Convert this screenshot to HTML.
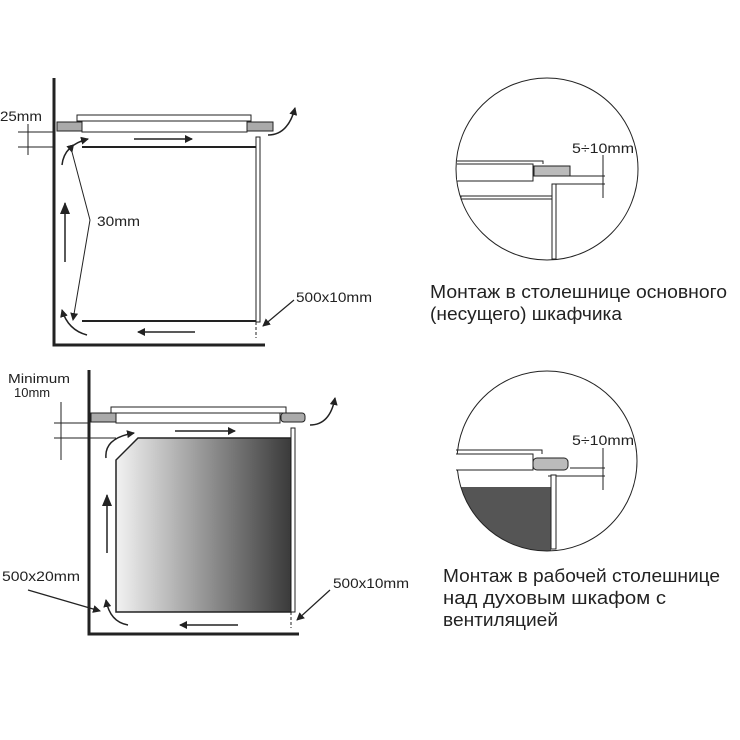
<!DOCTYPE html>
<html><head><meta charset="utf-8"><style>
html,body{margin:0;padding:0;background:#fff;}
svg{display:block;font-family:"Liberation Sans",sans-serif;}
</style></head><body>
<svg width="740" height="740" viewBox="0 0 740 740" xmlns="http://www.w3.org/2000/svg">
<defs>
<marker id="ah" markerWidth="8" markerHeight="8" refX="7" refY="4" orient="auto" markerUnits="userSpaceOnUse"><path d="M0,0 L8,4 L0,8 z" fill="#222"/></marker>
<marker id="ahb" markerWidth="12" markerHeight="10" refX="11" refY="5" orient="auto" markerUnits="userSpaceOnUse"><path d="M0,0 L12,5 L0,10 z" fill="#222"/></marker>
<linearGradient id="og" x1="0" x2="1" y1="0" y2="0"><stop offset="0" stop-color="#f2f2f2"/><stop offset="1" stop-color="#3a3a3a"/></linearGradient>
<clipPath id="c2"><circle cx="547" cy="461" r="90"/></clipPath>
</defs>
<g stroke="#222" fill="none">
<path d="M54,78 V345 H265" stroke-width="3"/>
<rect x="57" y="122" width="25" height="9" fill="#aaa" stroke-width="1"/>
<rect x="246" y="122" width="27" height="9" fill="#aaa" stroke-width="1"/>
<rect x="77" y="115" width="174" height="6" fill="#fff" stroke-width="1"/>
<rect x="82" y="121" width="165" height="11" fill="#fff" stroke-width="1"/>
<line x1="82" y1="147" x2="260" y2="147" stroke-width="2"/>
<line x1="82" y1="321" x2="260" y2="321" stroke-width="2"/>
<rect x="256" y="137" width="4" height="185" fill="#fff" stroke-width="1"/>
<line x1="256" y1="322" x2="256" y2="338" stroke-width="1" stroke-dasharray="3,2"/>
<line x1="18" y1="132" x2="54" y2="132" stroke-width="1"/>
<line x1="18" y1="147" x2="54" y2="147" stroke-width="1"/>
<line x1="28" y1="124" x2="28" y2="155" stroke-width="1"/>
<line x1="134" y1="139" x2="192" y2="139" stroke-width="1.5" marker-end="url(#ah)"/>
<line x1="195" y1="332" x2="138" y2="332" stroke-width="1.5" marker-end="url(#ah)"/>
<line x1="65" y1="262" x2="65" y2="203" stroke-width="1.5" marker-end="url(#ahb)"/>
<path d="M62,165 Q64,145 88,139" stroke-width="1.5" marker-end="url(#ah)"/>
<path d="M87,335 Q68,330 62,310" stroke-width="1.5" marker-end="url(#ah)"/>
<path d="M268,135 Q288,135 295,108" stroke-width="1.5" marker-end="url(#ah)"/>
<path d="M72,152 L90,220 L73,320" stroke-width="1" marker-start="url(#ah)" marker-end="url(#ah)"/>
<line x1="294" y1="300" x2="263" y2="326" stroke-width="1.2" marker-end="url(#ah)"/>
<path d="M89,370 V634 H299" stroke-width="3"/>
<path d="M138,438 H291 V612 H116 V460 Z" fill="url(#og)" stroke-width="1.5"/>
<rect x="91" y="413" width="25" height="9" fill="#aaa" stroke-width="1"/>
<rect x="281" y="413" width="24" height="9" rx="3" fill="#aaa" stroke-width="1"/>
<rect x="111" y="407" width="175" height="6" fill="#fff" stroke-width="1"/>
<rect x="116" y="413" width="164" height="10" fill="#fff" stroke-width="1"/>
<rect x="291" y="428" width="4" height="184" fill="#fff" stroke-width="1"/>
<line x1="291" y1="612" x2="291" y2="628" stroke-width="1" stroke-dasharray="3,2"/>
<line x1="54" y1="423" x2="89" y2="423" stroke-width="1"/>
<line x1="54" y1="438" x2="116" y2="438" stroke-width="1"/>
<line x1="61" y1="402" x2="61" y2="460" stroke-width="1"/>
<line x1="175" y1="431" x2="235" y2="431" stroke-width="1.5" marker-end="url(#ah)"/>
<line x1="238" y1="625" x2="180" y2="625" stroke-width="1.5" marker-end="url(#ah)"/>
<line x1="107" y1="553" x2="107" y2="495" stroke-width="1.5" marker-end="url(#ahb)"/>
<path d="M106,458 Q104,438 134,433" stroke-width="1.5" marker-end="url(#ah)"/>
<path d="M128,625 Q110,622 106,600" stroke-width="1.5" marker-end="url(#ah)"/>
<path d="M310,425 Q330,425 335,398" stroke-width="1.5" marker-end="url(#ah)"/>
<line x1="28" y1="590" x2="100" y2="611" stroke-width="1.2" marker-end="url(#ah)"/>
<line x1="330" y1="590" x2="297" y2="620" stroke-width="1.2" marker-end="url(#ah)"/>
<circle cx="547" cy="169" r="91" stroke-width="1"/>
<path d="M457,161 H543 V164" stroke-width="1"/>
<path d="M457,164 H533 V181 H457" fill="#fff" stroke-width="1"/>
<rect x="534" y="166" width="36" height="10" fill="#bbb" stroke-width="1"/>
<line x1="570" y1="176" x2="605" y2="176" stroke-width="1"/>
<line x1="553" y1="184" x2="605" y2="184" stroke-width="1"/>
<rect x="552" y="184" width="4" height="75" fill="#fff" stroke-width="1"/>
<rect x="461" y="196" width="91" height="3" fill="#fff" stroke-width="1"/>
<line x1="603" y1="155" x2="603" y2="198" stroke-width="1"/>
<g clip-path="url(#c2)"><rect x="440" y="487" width="111" height="80" fill="#555" stroke="none"/></g>
<circle cx="547" cy="461" r="90" stroke-width="1"/>
<path d="M456,450 H542 V454" stroke-width="1"/>
<path d="M456,454 H533 V470 H456" fill="#fff" stroke-width="1"/>
<rect x="533" y="458" width="35" height="12" rx="4" fill="#bbb" stroke-width="1"/>
<line x1="570" y1="468" x2="605" y2="468" stroke-width="1"/>
<line x1="548" y1="476" x2="605" y2="476" stroke-width="1"/>
<rect x="551" y="475" width="5" height="74" fill="#fff" stroke-width="1"/>
<line x1="603" y1="448" x2="603" y2="490" stroke-width="1"/>
</g>
<g fill="#222" font-size="14">
<text x="0" y="121" textLength="42" lengthAdjust="spacingAndGlyphs">25mm</text>
<text x="97" y="226" textLength="43" lengthAdjust="spacingAndGlyphs">30mm</text>
<text x="296" y="302" textLength="76" lengthAdjust="spacingAndGlyphs">500x10mm</text>
<text x="8" y="383" font-size="13" textLength="62" lengthAdjust="spacingAndGlyphs">Minimum</text>
<text x="14" y="397" font-size="13">10mm</text>
<text x="2" y="581" textLength="78" lengthAdjust="spacingAndGlyphs">500x20mm</text>
<text x="333" y="588" textLength="76" lengthAdjust="spacingAndGlyphs">500x10mm</text>
<text x="572" y="153" textLength="62" lengthAdjust="spacingAndGlyphs">5÷10mm</text>
<text x="572" y="445" textLength="62" lengthAdjust="spacingAndGlyphs">5÷10mm</text>
</g>
<g fill="#222" font-size="18">
<text x="430" y="298" textLength="297" lengthAdjust="spacingAndGlyphs">Монтаж в столешнице  основного</text>
<text x="430" y="320" textLength="192" lengthAdjust="spacingAndGlyphs">(несущего) шкафчика</text>
<text x="443" y="582" textLength="277" lengthAdjust="spacingAndGlyphs">Монтаж в рабочей столешнице</text>
<text x="443" y="604" textLength="223" lengthAdjust="spacingAndGlyphs">над духовым шкафом с</text>
<text x="443" y="626" textLength="115" lengthAdjust="spacingAndGlyphs">вентиляцией</text>
</g>
</svg>
</body></html>
